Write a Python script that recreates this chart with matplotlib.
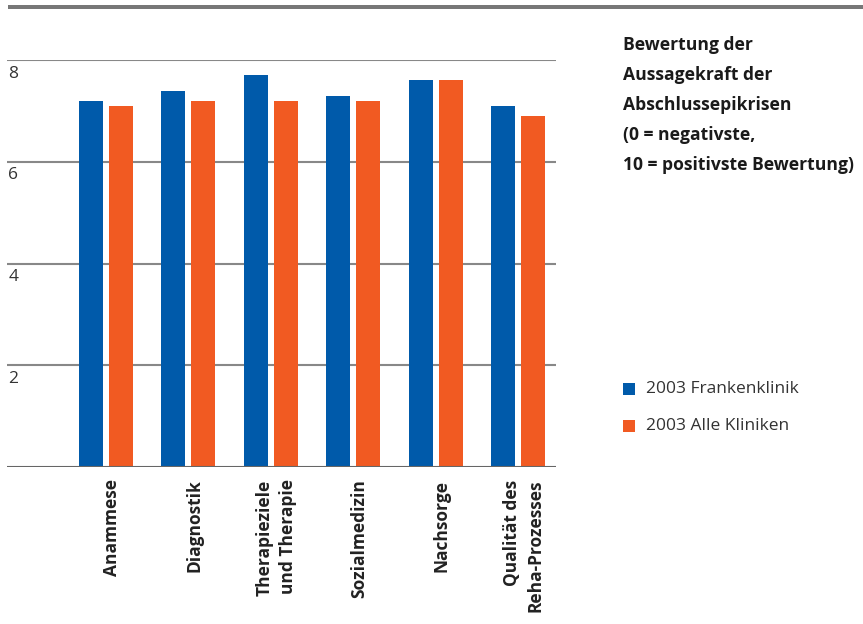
import numpy as np
import matplotlib.pyplot as plt
from matplotlib.patches import Rectangle

plt.rcParams['font.family'] = ['Open Sans', 'DejaVu Sans']

# Bewertungen je Bereich
kategorien = ['Anammese', 'Diagnostik', 'Therapieziele\nund Therapie',
              'Sozialmedizin', 'Nachsorge', 'Qualität des\nReha-Prozesses']
frankenklinik = [7.2, 7.4, 7.7, 7.3, 7.6, 7.1]
alle_kliniken = [7.1, 7.2, 7.2, 7.2, 7.6, 6.9]
serien = ['2003 Frankenklinik', '2003 Alle Kliniken']
yticks = [2, 4, 6, 8]

blau = '#005aaa'
orange = '#f15a22'
text_col = '#333333'

W, H = 863, 624
fig = plt.figure(figsize=(W / 100, H / 100), dpi=100)

# grauer Balken oben
fig.add_artist(Rectangle((8 / W, 1 - 9 / H), 1, 4 / H, transform=fig.transFigure,
                         color='#777777', lw=0))

ax = fig.add_axes([7 / W, 1 - 467 / H, (556 - 7) / W, (467 - 60) / H])
x = np.arange(len(kategorien))
bw, gap = 0.291, 0.073
ax.bar(x - (bw + gap) / 2, frankenklinik, bw, color=blau, zorder=3)
ax.bar(x + (bw + gap) / 2, alle_kliniken, bw, color=orange, zorder=3)

ax.set_xlim(-1.2, 5.46)
ax.set_ylim(0, 8)
for s in ax.spines.values():
    s.set_visible(False)
ax.axhline(0, color='#666666', lw=1.5, zorder=4)
for v in yticks:
    ax.axhline(v, color='#888888', lw=1.5, zorder=2)
    ax.annotate(str(v), xy=(0, v), xycoords=('axes fraction', 'data'),
                xytext=(1, -4), textcoords='offset points', va='top', ha='left',
                fontsize=12.5, color=text_col)
ax.set_yticks([])
ax.set_xticks(x + 0.07)
ax.set_xticklabels(kategorien, rotation=90, fontsize=12.5, fontweight='bold',
                   color='#222222', va='top', ha='center', multialignment='right',
                   linespacing=1.38)
ax.tick_params(axis='x', length=0, pad=9)

fig.text(623 / W, 1 - 36 / H,
         'Bewertung der\nAussagekraft der\nAbschlussepikrisen\n(0 = negativste,\n10 = positivste Bewertung)',
         fontsize=12.6, fontweight='bold', color='#1a1a1a', va='top', ha='left',
         linespacing=1.86)

# Legende
for i, (name, col) in enumerate(zip(serien, [blau, orange])):
    yc = 389 + i * 37
    fig.add_artist(Rectangle((623 / W, 1 - (yc + 6) / H), 12 / W, 12 / H,
                             transform=fig.transFigure, color=col, lw=0))
    fig.text(646 / W, 1 - yc / H, name, fontsize=12.5, color=text_col,
             va='center', ha='left')

fig.savefig('out.png', dpi=100)
